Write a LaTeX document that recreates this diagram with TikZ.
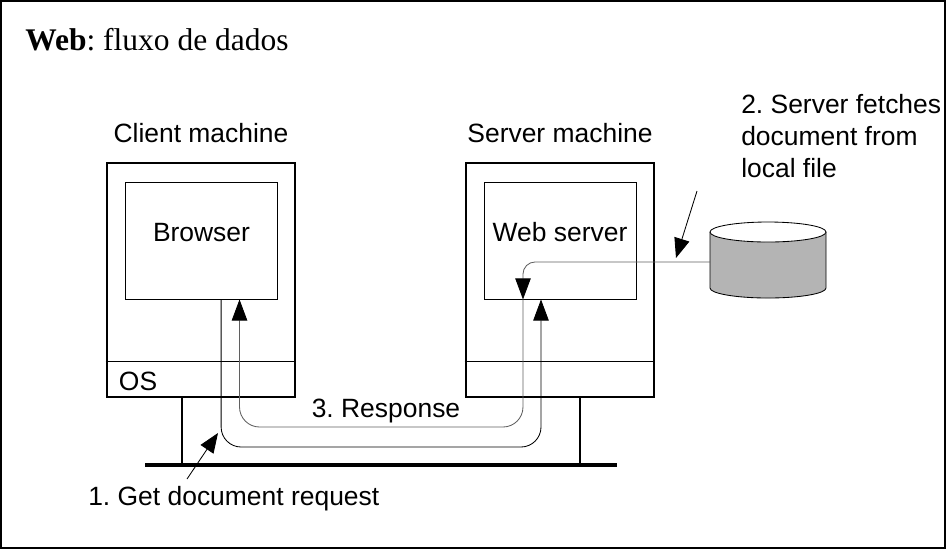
\documentclass[tikz,border=0pt]{standalone}
\usepackage{fontspec}
\setmainfont{Liberation Sans}
\newfontfamily\titlefont{Liberation Serif}
\usepackage{tikz}
\usetikzlibrary{arrows.meta}
\usetikzlibrary{positioning}
\usepackage{xcolor}
\frenchspacing

\definecolor{diskgray}{RGB}{180,180,180}
\definecolor{linegray}{RGB}{95,95,95}
\newcommand{\lblfont}{\fontsize{18.8}{22.6}\selectfont}
\newcommand{\ttlfont}{\titlefont\fontsize{22.4}{26}\selectfont}

\begin{document}
\begin{tikzpicture}[x=0.025cm,y=-0.025cm,
 >={Triangle[length=15pt,width=11pt,color=black]},
 machine/.style={draw,line width=1.8pt,minimum width=4.7cm,minimum height=5.85cm,inner sep=0pt},
 prog/.style={draw,line width=0.6pt,minimum width=3.8cm,minimum height=2.925cm,inner sep=0pt},
 lbl/.style={font=\lblfont,inner sep=0pt,anchor=base},
 req/.style={->,line width=0.6pt,rounded corners=0.5cm},
 resp/.style={req,draw=linegray},
 note/.style={-{Triangle[length=14pt,width=11pt]},line width=0.6pt}]

 % frame of the slide
 \useasboundingbox (0,0) rectangle (946,549);
 \draw[line width=1.4pt] (1,1) rectangle (945,548);
 \node[font=\ttlfont,inner sep=0pt,anchor=base west] (title) at (25,50)
  {\textbf{Web}: fluxo de dados};

 % the two machines, each with its program inside
 \node[machine] (client) at (201,280) {};
 \node[machine] (server) at (560,280) {};
 \node[prog,label={[lbl,yshift=0.2cm]center:Browser}] (browser) at (201.5,240.5) {};
 \node[prog,label={[lbl,yshift=0.2cm]center:Web server}] (websrv) at (560,240.5) {};
 \node[lbl,above=0.47cm of client] (clientlbl) {Client machine};
 \node[lbl,above=0.47cm of server] (serverlbl) {Server machine};

 % OS layer at the bottom of each machine
 \draw[line width=0.6pt] ([yshift=0.925cm]client.south west) -- ([yshift=0.925cm]client.south east);
 \draw[line width=0.6pt] ([yshift=0.925cm]server.south west) -- ([yshift=0.925cm]server.south east);
 \node[lbl,anchor=base west] (os) at ([xshift=0.325cm,yshift=0.2cm]client.south west) {OS};

 % network
 \coordinate (gl) at (145,465);
 \coordinate (gr) at (617,465);
 \draw[line width=2.8pt] (gl) -- (gr);
 \draw[line width=2.1pt] ([xshift=-0.475cm]client.south) -- ([xshift=-0.475cm]client.south |- gl);
 \draw[line width=2.1pt] ([xshift=0.5cm]server.south) -- ([xshift=0.5cm]server.south |- gl);

 % local disk
 \fill[diskgray] (710,232) -- (710,288) arc[start angle=180,end angle=360,x radius=1.45cm,y radius=0.25cm] -- (826,232) -- cycle;
 \draw[line width=0.6pt] (710,232) -- (710,288) arc[start angle=180,end angle=360,x radius=1.45cm,y radius=0.25cm] -- (826,232);
 \draw[line width=0.6pt,fill=white] (768,232) ellipse[x radius=1.45cm,y radius=0.25cm];
 \coordinate (disk) at (710,262);

 % data flow
 \draw[req] ([xshift=0.49cm]browser.south) |- (381,447) -| ([xshift=-0.475cm]websrv.south);
 \draw[resp,rounded corners=0.3cm] (disk) -| ([xshift=-0.925cm]websrv.south);
 \draw[resp] ([xshift=-0.925cm]websrv.south) |- (381,427) -| ([xshift=0.95cm]browser.south);

 % labels of the steps
 \node[lbl] (resplbl) at (386,417) {3. Response};
 \node[lbl,anchor=base west] (reqlbl) at (88,505) {1. Get document request};
 \node[font=\lblfont,inner sep=0pt,anchor=north west,align=left] (fetchlbl) at (741,94)
  {2. Server fetches\\document from\\local file};
 \coordinate (reqtail) at (187,479);
 \coordinate (reqtip) at (218,433);
 \coordinate (fetchtail) at (697,191);
 \coordinate (fetchtip) at (676,258);
 \draw[note] (reqtail) -- (reqtip);
 \draw[note] (fetchtail) -- (fetchtip);

\end{tikzpicture}
\end{document}
